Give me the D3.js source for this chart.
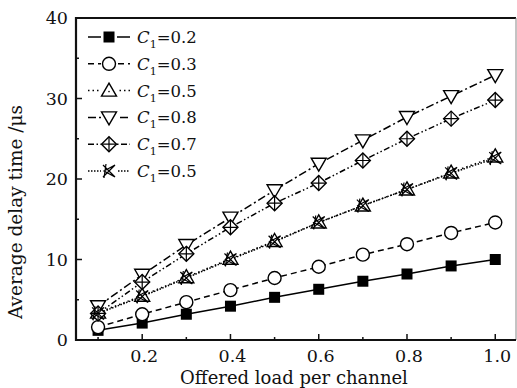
<!DOCTYPE html>
<html>
<head>
<meta charset="utf-8">
<script src="https://cdn.jsdelivr.net/npm/d3@7/dist/d3.min.js"></script>
<style>
  body { margin: 0; background: #fff; }
  text { font-family: "DejaVu Serif", "Liberation Serif", serif; fill: #111; }
</style>
</head>
<body>
<script>
// data
var loads = [0.1, 0.2, 0.3, 0.4, 0.5, 0.6, 0.7, 0.8, 0.9, 1.0];
var c02 = [1.2, 2.1, 3.2, 4.2, 5.3, 6.3, 7.3, 8.2, 9.2, 10.0];
var c03 = [1.6, 3.2, 4.7, 6.2, 7.7, 9.1, 10.6, 11.9, 13.3, 14.6];
var c05a = [3.4, 5.5, 7.8, 10.1, 12.3, 14.6, 16.7, 18.7, 20.8, 22.8];
var c08 = [4.2, 8.1, 11.8, 15.2, 18.6, 21.9, 24.8, 27.7, 30.3, 32.9];
var c07 = [3.3, 7.2, 10.7, 14.0, 17.0, 19.5, 22.3, 25.0, 27.5, 29.8];
var c05b = [3.3, 5.4, 7.7, 10.0, 12.2, 14.6, 16.7, 18.7, 20.7, 22.6];
var legendLabels = ["0.2", "0.3", "0.5", "0.8", "0.7", "0.5"];
var xTicks = [0.2, 0.4, 0.6, 0.8, 1.0];
var yTicks = [0, 10, 20, 30, 40];

var width = 517;
var height = 388;
// plot box edges
var box = { left: 76, right: 516, top: 18, bottom: 340 };

var svg = d3.select("body")
  .append("svg")
  .attr("width", width)
  .attr("height", height);

var x = d3.scaleLinear().domain([0.05, 1.047]).range([box.left, box.right]);
var y = d3.scaleLinear().domain([0, 40]).range([box.bottom, box.top]);

// series styles
var series = [
  { values: c02, dash: null, marker: "square" },
  { values: c03, dash: "6,4", marker: "circle" },
  { values: c05a, dash: "1.5,3", marker: "triUp" },
  { values: c08, dash: "8,3,2,3", marker: "triDown" },
  { values: c07, dash: "6,2.5,1.5,2.5,1.5,2.5", marker: "diamond" },
  { values: c05b, dash: "1.5,1.5", marker: "xstar" }
];

function drawMarker(g, type) {
  if (type === "square") {
    g.append("rect").attr("x", -5.5).attr("y", -5.5).attr("width", 11).attr("height", 11)
      .attr("fill", "#000");
  } else if (type === "circle") {
    g.append("circle").attr("r", 6.5).attr("fill", "#fff").attr("stroke", "#000").attr("stroke-width", 1.4);
  } else if (type === "triUp") {
    g.append("path").attr("d", "M0,-7.5L7.5,5.5L-7.5,5.5Z").attr("fill", "#fff")
      .attr("stroke", "#000").attr("stroke-width", 1.4);
    g.append("circle").attr("cy", 1).attr("r", 0.8).attr("fill", "#000");
  } else if (type === "triDown") {
    g.append("path").attr("d", "M0,7.5L7.5,-5.5L-7.5,-5.5Z").attr("fill", "#fff")
      .attr("stroke", "#000").attr("stroke-width", 1.4);
  } else if (type === "diamond") {
    g.append("path").attr("d", "M0,-7.5L7.5,0L0,7.5L-7.5,0Z").attr("fill", "#fff")
      .attr("stroke", "#000").attr("stroke-width", 1.4);
    g.append("path").attr("d", "M0,-7.5L0,7.5M-7.5,0L7.5,0").attr("stroke", "#000").attr("stroke-width", 1.2);
  } else if (type === "xstar") {
    g.append("path").attr("d", "M-6,-6L6,6M-6,6L6,-6M6,-6L-5,0L6,6M-3,-7L-5,7")
      .attr("fill", "none").attr("stroke", "#000").attr("stroke-width", 1.2);
  }
}

var line = d3.line()
  .x(function (d, i) { return x(loads[i]); })
  .y(function (d) { return y(d); });

series.forEach(function (s) {
  svg.append("path")
    .attr("d", line(s.values))
    .attr("fill", "none")
    .attr("stroke", "#000")
    .attr("stroke-width", 1.5)
    .attr("stroke-dasharray", s.dash);
});

series.forEach(function (s) {
  svg.selectAll(null)
    .data(s.values)
    .enter()
    .append("g")
    .attr("transform", function (d, i) {
      return "translate(" + x(loads[i]) + "," + y(d) + ")";
    })
    .each(function () { drawMarker(d3.select(this), s.marker); });
});

// frame
svg.append("line").attr("x1", box.left).attr("x2", box.right).attr("y1", box.top).attr("y2", box.top)
  .attr("stroke", "#111").attr("stroke-width", 2);
svg.append("line").attr("x1", box.right).attr("x2", box.right).attr("y1", box.top).attr("y2", box.bottom)
  .attr("stroke", "#888").attr("stroke-width", 1);

// x axis, ticks pointing inwards
var gx = svg.append("g").attr("transform", "translate(0," + box.bottom + ")");
gx.append("line").attr("x1", box.left - 1).attr("x2", box.right).attr("stroke", "#111").attr("stroke-width", 2.2);
gx.selectAll(".tk")
  .data(loads)
  .enter()
  .append("line")
  .attr("x1", function (d) { return x(d); })
  .attr("x2", function (d) { return x(d); })
  .attr("y1", 0)
  .attr("y2", function (d, i) { return i % 2 === 1 ? -6 : -3; })
  .attr("stroke", "#111")
  .attr("stroke-width", 1.5);
gx.selectAll(".lbl")
  .data(xTicks)
  .enter()
  .append("text")
  .attr("x", function (d) { return x(d) + 2; })
  .attr("y", 22)
  .attr("text-anchor", "middle")
  .attr("font-size", "17.5px")
  .text(function (d) { return d.toFixed(1); });

// y axis
var gy = svg.append("g");
gy.append("line").attr("x1", box.left).attr("x2", box.left).attr("y1", box.top - 1).attr("y2", box.bottom + 1)
  .attr("stroke", "#111").attr("stroke-width", 2.2);
gy.selectAll(".tk")
  .data(d3.range(0, 41, 5))
  .enter()
  .append("line")
  .attr("x1", box.left)
  .attr("x2", function (d) { return d % 10 === 0 ? box.left + 6 : box.left + 3; })
  .attr("y1", function (d) { return y(d); })
  .attr("y2", function (d) { return y(d); })
  .attr("stroke", "#111")
  .attr("stroke-width", 1.5);
gy.selectAll(".lbl")
  .data(yTicks)
  .enter()
  .append("text")
  .attr("x", 68)
  .attr("y", function (d) { return y(d); })
  .attr("dy", "0.35em")
  .attr("text-anchor", "end")
  .attr("font-size", "17.5px")
  .text(function (d) { return d; });

// axis titles
svg.append("text")
  .attr("x", 294)
  .attr("y", 384)
  .attr("text-anchor", "middle")
  .attr("font-size", "18px")
  .text("Offered load per channel");
svg.append("text")
  .attr("transform", "translate(22,212) rotate(-90)")
  .attr("text-anchor", "middle")
  .attr("font-size", "18.5px")
  .text("Average delay time /\u03bcs");

// legend
var leg = svg.append("g");
series.forEach(function (s, i) {
  var ly = 37 + i * 26.8;
  leg.append("line")
    .attr("x1", 88).attr("x2", 130)
    .attr("y1", ly).attr("y2", ly)
    .attr("stroke", "#000").attr("stroke-width", 1.5)
    .attr("stroke-dasharray", s.dash);
  var m = leg.append("g").attr("transform", "translate(109," + ly + ")");
  m.append("rect").attr("x", -8).attr("y", -8).attr("width", 16).attr("height", 16).attr("fill", "#fff");
  drawMarker(m, s.marker);
  var t = leg.append("text")
    .attr("x", 137)
    .attr("y", ly + 6)
    .attr("font-size", "16.5px");
  t.append("tspan").attr("font-style", "italic").text("C");
  t.append("tspan").attr("font-size", "11px").attr("dy", 5).text("1");
  t.append("tspan").attr("dy", -5).text("=" + legendLabels[i]);
});
</script>
</body>
</html>
